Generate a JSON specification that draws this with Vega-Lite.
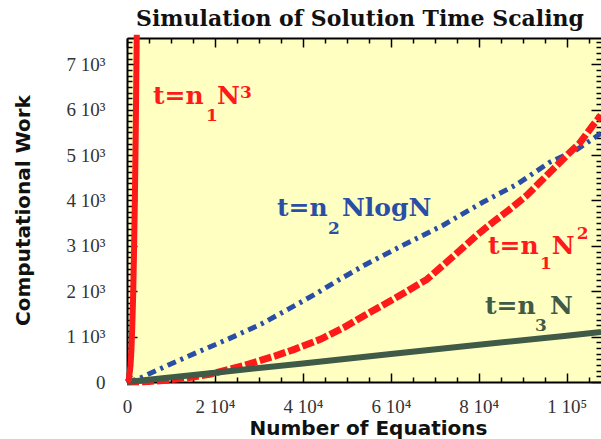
{
  "$schema": "https://vega.github.io/schema/vega-lite/v6.json",
  "width": 474,
  "height": 344,
  "autosize": {"type": "none"},
  "padding": {"left": 127, "top": 38, "right": 0, "bottom": 57},
  "background": "white",
  "title": {"text": "Simulation of Solution Time Scaling", "font": "DejaVu Serif", "fontSize": 22, "fontWeight": "bold", "color": "#111", "anchor": "middle", "offset": -8, "dx": -4},
  "config": {
    "view": {"fill": "#ffffc2", "stroke": null},
    "axis": {"grid": false, "domainColor": "black", "domainWidth": 2, "tickColor": "black", "tickWidth": 1.5, "labelFont": "Liberation Serif", "labelFontSize": 19, "labelColor": "#333", "labelOverlap": false, "labelFlush": false, "titleFont": "DejaVu Sans", "titleFontWeight": "bold", "titleFontSize": 20, "titleColor": "#111"}
  },
  "datasets": {
    "curves": [
      {"series": "cubic", "N": 0, "W": 0},
      {"series": "cubic", "N": 400, "W": 45},
      {"series": "cubic", "N": 800, "W": 358},
      {"series": "cubic", "N": 1000, "W": 700},
      {"series": "cubic", "N": 1200, "W": 1210},
      {"series": "cubic", "N": 1400, "W": 1920},
      {"series": "cubic", "N": 1600, "W": 2870},
      {"series": "cubic", "N": 1800, "W": 4080},
      {"series": "cubic", "N": 2000, "W": 5600},
      {"series": "cubic", "N": 2215, "W": 7650},
      {"series": "quad", "N": 0, "W": 0},
      {"series": "quad", "N": 5000, "W": 10},
      {"series": "quad", "N": 10000, "W": 50},
      {"series": "quad", "N": 15000, "W": 110},
      {"series": "quad", "N": 19100, "W": 175},
      {"series": "quad", "N": 26800, "W": 370},
      {"series": "quad", "N": 33600, "W": 570},
      {"series": "quad", "N": 38200, "W": 725},
      {"series": "quad", "N": 44100, "W": 945},
      {"series": "quad", "N": 49500, "W": 1210},
      {"series": "quad", "N": 54100, "W": 1470},
      {"series": "quad", "N": 60500, "W": 1820},
      {"series": "quad", "N": 68200, "W": 2260},
      {"series": "quad", "N": 73400, "W": 2700},
      {"series": "quad", "N": 79500, "W": 3230},
      {"series": "quad", "N": 83200, "W": 3520},
      {"series": "quad", "N": 87000, "W": 3800},
      {"series": "quad", "N": 90900, "W": 4110},
      {"series": "quad", "N": 93900, "W": 4400},
      {"series": "quad", "N": 96800, "W": 4680},
      {"series": "quad", "N": 100000, "W": 4990},
      {"series": "quad", "N": 103000, "W": 5270},
      {"series": "quad", "N": 105900, "W": 5650},
      {"series": "quad", "N": 107800, "W": 5880},
      {"series": "nlogn", "N": 0, "W": 0},
      {"series": "nlogn", "N": 2500, "W": 65},
      {"series": "nlogn", "N": 9300, "W": 370},
      {"series": "nlogn", "N": 16100, "W": 660},
      {"series": "nlogn", "N": 23000, "W": 945},
      {"series": "nlogn", "N": 30500, "W": 1275},
      {"series": "nlogn", "N": 36600, "W": 1600},
      {"series": "nlogn", "N": 42700, "W": 1930},
      {"series": "nlogn", "N": 48000, "W": 2240},
      {"series": "nlogn", "N": 54100, "W": 2580},
      {"series": "nlogn", "N": 62700, "W": 3010},
      {"series": "nlogn", "N": 71800, "W": 3450},
      {"series": "nlogn", "N": 80900, "W": 3960},
      {"series": "nlogn", "N": 88600, "W": 4350},
      {"series": "nlogn", "N": 96100, "W": 4840},
      {"series": "nlogn", "N": 102300, "W": 5120},
      {"series": "nlogn", "N": 107800, "W": 5480},
      {"series": "lin", "N": 0, "W": 0},
      {"series": "lin", "N": 20000, "W": 205},
      {"series": "lin", "N": 40000, "W": 410},
      {"series": "lin", "N": 60000, "W": 615},
      {"series": "lin", "N": 80000, "W": 820},
      {"series": "lin", "N": 100000, "W": 1020},
      {"series": "lin", "N": 107800, "W": 1100}
    ],
    "labels": [
      {"series": "cubic", "role": "main", "text": "t=n", "N": 5910, "W": 6124},
      {"series": "cubic", "role": "sub", "text": "1", "N": 17960, "W": 5750},
      {"series": "cubic", "role": "main", "text": "N", "N": 20460, "W": 6124},
      {"series": "cubic", "role": "sub", "text": "3", "N": 25690, "W": 6256},
      {"series": "nlogn", "role": "main", "text": "t=n", "N": 34100, "W": 3657},
      {"series": "nlogn", "role": "sub", "text": "2", "N": 45700, "W": 3260},
      {"series": "nlogn", "role": "main", "text": "NlogN", "N": 48900, "W": 3657},
      {"series": "quad", "role": "main", "text": "t=n", "N": 82080, "W": 2820},
      {"series": "quad", "role": "sub", "text": "1", "N": 93900, "W": 2489},
      {"series": "quad", "role": "main", "text": "N", "N": 96600, "W": 2820},
      {"series": "quad", "role": "sub", "text": "2", "N": 102300, "W": 3150},
      {"series": "lin", "role": "main", "text": "t=n", "N": 81400, "W": 1498},
      {"series": "lin", "role": "sub", "text": "3", "N": 92770, "W": 1124},
      {"series": "lin", "role": "main", "text": "N", "N": 96180, "W": 1498}
    ]
  },
  "resolve": {"axis": {"x": "independent", "y": "independent"}},
  "layer": [
    {
      "data": {"name": "curves"},
      "transform": [{"filter": "datum.series === 'nlogn'"}],
      "mark": {"type": "line", "strokeWidth": 5, "strokeDash": [9, 5, 3, 5]},
      "encoding": {
        "x": {"field": "N", "type": "quantitative", "scale": {"domain": [0, 107800], "nice": false, "zero": false},
          "axis": {"orient": "bottom", "values": [0,5000,10000,15000,20000,25000,30000,35000,40000,45000,50000,55000,60000,65000,70000,75000,80000,85000,90000,95000,100000,105000],
            "labelExpr": "datum.value == 0 ? '0' : (datum.value % 20000 != 0 ? '' : (datum.value == 100000 ? '1  10⁵' : (datum.value / 10000) + '  10⁴'))",
            "tickSize": {"condition": {"test": "datum.value % 20000 === 0", "value": -9}, "value": -5},
            "labelPadding": 24, "title": "Number of Equations", "titleX": 241, "titleY": 52, "titleBaseline": "alphabetic"}},
        "y": {"field": "W", "type": "quantitative", "scale": {"domain": [0, 7580], "nice": false},
          "axis": {"orient": "left", "values": [0,125,250,375,500,625,750,875,1000,1125,1250,1375,1500,1625,1750,1875,2000,2125,2250,2375,2500,2625,2750,2875,3000,3125,3250,3375,3500,3625,3750,3875,4000,4125,4250,4375,4500,4625,4750,4875,5000,5125,5250,5375,5500,5625,5750,5875,6000,6125,6250,6375,6500,6625,6750,6875,7000,7125,7250,7375,7500],
            "labelExpr": "datum.value == 0 ? '0' : (datum.value % 1000 != 0 ? '' : (datum.value / 1000) + '  10³')",
            "tickSize": {"condition": {"test": "datum.value % 1000 === 0", "value": -10}, "value": -5},
            "labelPadding": 32, "title": "Computational Work", "titleX": -104, "titleY": 172, "titleBaseline": "middle"}},
        "color": {"field": "series", "type": "nominal", "scale": {"domain": ["cubic", "quad", "nlogn", "lin"], "range": ["#ff1a1a", "#ff1a1a", "#2a4ea6", "#3f5a46"]}, "legend": null}
      }
    },
    {
      "data": {"name": "curves"},
      "transform": [{"filter": "datum.series === 'quad'"}],
      "mark": {"type": "line", "strokeWidth": 7, "strokeDash": [12, 3]},
      "encoding": {
        "x": {"field": "N", "type": "quantitative",
          "axis": {"orient": "top", "values": [0,5000,10000,15000,20000,25000,30000,35000,40000,45000,50000,55000,60000,65000,70000,75000,80000,85000,90000,95000,100000,105000],
            "labels": false, "title": null,
            "tickSize": {"condition": {"test": "datum.value % 20000 === 0", "value": -9}, "value": -5}}},
        "y": {"field": "W", "type": "quantitative",
          "axis": {"orient": "right", "values": [0,125,250,375,500,625,750,875,1000,1125,1250,1375,1500,1625,1750,1875,2000,2125,2250,2375,2500,2625,2750,2875,3000,3125,3250,3375,3500,3625,3750,3875,4000,4125,4250,4375,4500,4625,4750,4875,5000,5125,5250,5375,5500,5625,5750,5875,6000,6125,6250,6375,6500,6625,6750,6875,7000,7125,7250,7375,7500],
            "labels": false, "title": null, "domain": false,
            "tickSize": {"condition": {"test": "datum.value % 1000 === 0", "value": -10}, "value": -5}}},
        "color": {"field": "series", "type": "nominal", "legend": null}
      }
    },
    {
      "data": {"name": "curves"},
      "transform": [{"filter": "datum.series === 'lin'"}],
      "mark": {"type": "line", "strokeWidth": 6},
      "encoding": {
        "x": {"field": "N", "type": "quantitative", "axis": null},
        "y": {"field": "W", "type": "quantitative", "axis": null},
        "color": {"field": "series", "type": "nominal", "legend": null}
      }
    },
    {
      "data": {"name": "curves"},
      "transform": [{"filter": "datum.series === 'cubic'"}],
      "mark": {"type": "line", "strokeWidth": 6},
      "encoding": {
        "x": {"field": "N", "type": "quantitative", "axis": null},
        "y": {"field": "W", "type": "quantitative", "axis": null},
        "color": {"field": "series", "type": "nominal", "legend": null}
      }
    },
    {
      "data": {"name": "labels"},
      "transform": [{"filter": "datum.role === 'main'"}],
      "mark": {"type": "text", "font": "DejaVu Serif", "fontSize": 25, "fontWeight": "bold", "align": "left", "baseline": "alphabetic"},
      "encoding": {
        "x": {"field": "N", "type": "quantitative", "axis": null},
        "y": {"field": "W", "type": "quantitative", "axis": null},
        "text": {"field": "text"},
        "color": {"field": "series", "type": "nominal", "legend": null}
      }
    },
    {
      "data": {"name": "labels"},
      "transform": [{"filter": "datum.role === 'sub'"}],
      "mark": {"type": "text", "font": "DejaVu Serif", "fontSize": 17, "fontWeight": "bold", "align": "left", "baseline": "alphabetic"},
      "encoding": {
        "x": {"field": "N", "type": "quantitative", "axis": null},
        "y": {"field": "W", "type": "quantitative", "axis": null},
        "text": {"field": "text"},
        "color": {"field": "series", "type": "nominal", "legend": null}
      }
    }
  ]
}
